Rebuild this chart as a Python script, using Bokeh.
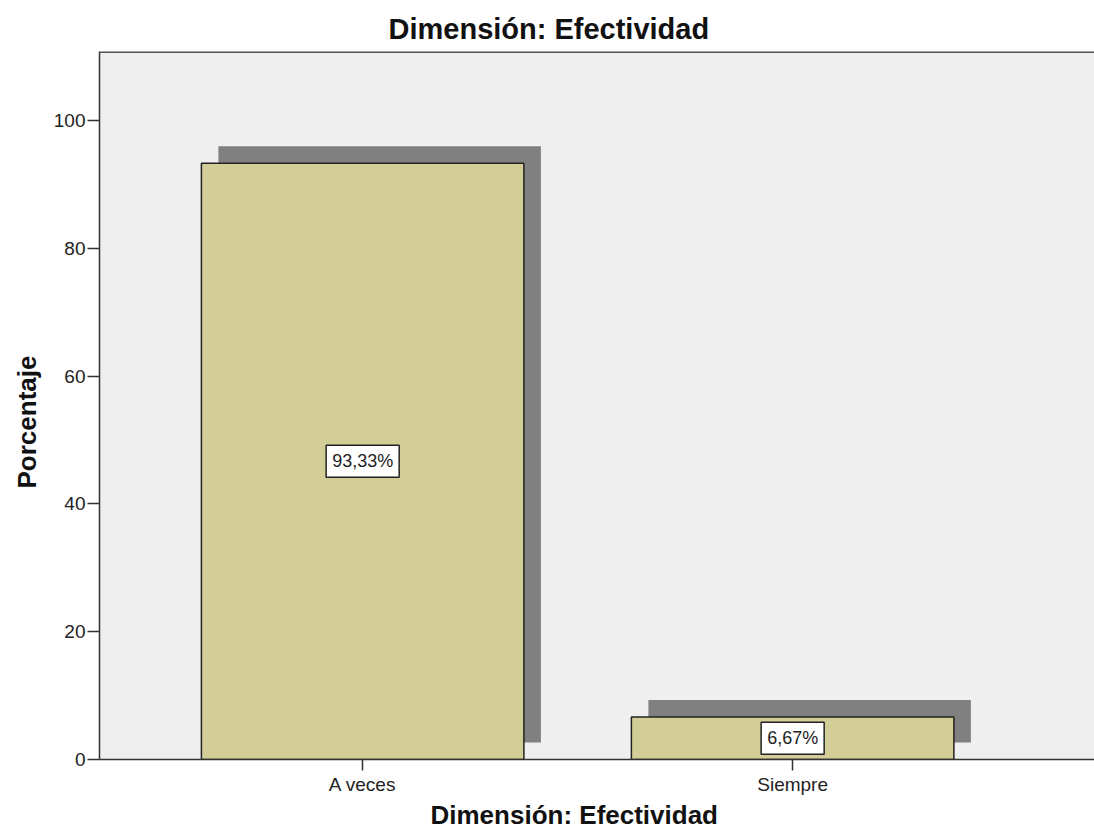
from bokeh.plotting import figure
from bokeh.models import ColumnDataSource, FixedTicker, Label, Range1d, Span, Title
from bokeh.transform import dodge
from bokeh.embed import file_html
from bokeh.resources import INLINE

# ---- data ----
categories = ["A veces", "Siempre"]
percentages = [93.33, 6.67]
percent_labels = ["93,33%", "6,67%"]
y_ticks = [0, 20, 40, 60, 80, 100]
title_text = "Dimensión: Efectividad"
x_title = "Dimensión: Efectividad"
y_title = "Porcentaje"

# ---- layout ----
W, H = 1094, 834
FL, FT, FB, FR = 99, 51, 75, 0
FW = W - FL - FR
FH = H - FT - FB
X0, X1 = 0.388, 2.702
Y0, Y1 = 0.0, 110.8

shadow_dx = 17 / FW * (X1 - X0)
shadow_dy = 17 / FH * (Y1 - Y0)

positions = list(range(1, len(categories) + 1))
src = ColumnDataSource(dict(x=positions, pct=percentages, lab=percent_labels))

p = figure(width=W, height=H, output_backend="svg", toolbar_location=None,
           x_range=Range1d(X0, X1), y_range=Range1d(Y0, Y1),
           min_border_left=FL, min_border_right=FR, min_border_top=FT,
           min_border_bottom=FB)
p.background_fill_color = "#EFEFEF"
p.border_fill_color = "white"
p.outline_line_color = None
p.xgrid.visible = False
p.ygrid.visible = False

# shadows
p.vbar(x=dodge("x", shadow_dx), top=dodge("pct", shadow_dy), bottom=shadow_dy,
       width=0.75, source=src, fill_color="#808080", line_color=None)
# bars
p.vbar(x="x", top="pct", bottom=0, width=0.75, source=src,
       fill_color="#D3CE97", line_color="#222222", line_width=1.5)

AX = "#333333"
FONT = "Liberation Sans"

xa = p.xaxis[0]
xa.ticker = FixedTicker(ticks=positions)
xa.major_label_overrides = {pos: c for pos, c in zip(positions, categories)}
xa.axis_line_color = AX
xa.axis_line_width = 1.5
xa.major_tick_line_color = AX
xa.major_tick_line_width = 1.5
xa.major_tick_out = 11
xa.major_tick_in = 0
xa.minor_tick_line_color = None
xa.major_label_text_font = FONT
xa.major_label_text_font_size = "19px"
xa.major_label_text_color = "#222222"
xa.major_label_standoff = 3

ya = p.yaxis[0]
ya.ticker = FixedTicker(ticks=y_ticks)
ya.axis_line_color = AX
ya.axis_line_width = 1.5
ya.major_tick_line_color = AX
ya.major_tick_line_width = 1.5
ya.major_tick_out = 12
ya.major_tick_in = 0
ya.minor_tick_line_color = None
ya.major_label_text_font = FONT
ya.major_label_text_font_size = "19px"
ya.major_label_text_color = "#222222"
ya.major_label_standoff = 2

# top border of the frame
p.add_layout(Span(location=Y1, dimension="width", line_color="#555555",
                  line_width=3))

# value labels in boxes
for pos, v, t in zip(positions, percentages, percent_labels):
    p.add_layout(Label(x=pos, y=v / 2, text=t, text_align="center",
                       text_baseline="middle", text_font=FONT,
                       text_font_size="18px", text_color="#222222",
                       background_fill_color="white",
                       border_line_color="#222222", border_line_width=1.5,
                       padding=6))

# titles
p.add_layout(Title(text=title_text, align="left", offset=289, standoff=13,
                   text_font=FONT, text_font_size="29px",
                   text_font_style="bold", text_color="#111111"), "above")
p.add_layout(Title(text=x_title, align="left", offset=331, standoff=0,
                   text_font=FONT, text_font_size="26px",
                   text_font_style="bold", text_color="#111111"), "below")
p.add_layout(Title(text=y_title, align="left", offset=271, standoff=18,
                   text_font=FONT, text_font_size="26px",
                   text_font_style="bold", text_color="#111111"), "left")

open("out.html", "w").write(file_html(p, INLINE))
